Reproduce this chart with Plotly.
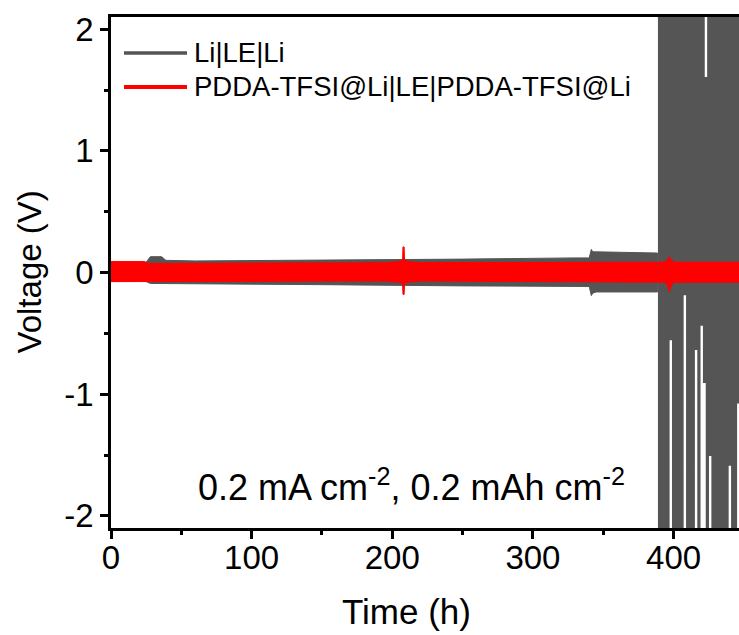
import plotly.graph_objects as go

# ---------------- data ----------------
# Li|LE|Li : envelope of the stable cycling region (V)
gray_t = [0, 24, 26, 28, 36, 39, 60, 150, 250, 330, 340, 341.5, 342.5, 345, 388.5]
gray_hi = [0.07, 0.07, 0.10, 0.13, 0.13, 0.10, 0.095, 0.10, 0.11, 0.12, 0.12, 0.19, 0.17, 0.17, 0.16]
gray_lo = [-0.07, -0.07, -0.08, -0.09, -0.09, -0.09, -0.09, -0.10, -0.11, -0.115, -0.115, -0.19, -0.17, -0.16, -0.16]

# Li|LE|Li : failure region, one value per 1 h half-cycle starting at 388.5 h (V, off-scale = +/-2.5)
fail_start = 388.5
fail_v = [2.5, -2.5, 2.5, -2.5, 2.5, -2.5, 2.5, -2.5, 2.5, -0.55,
          2.5, -2.5, 2.5, -2.5, 2.5, -2.5, 2.5, -2.5, 2.5, -0.18,
          2.5, -2.5, 2.5, -2.5, 2.5, -2.5, 2.5, -0.63, 2.5, -2.5,
          2.5, -0.43, 2.5, -0.9, 1.6, -2.5, 2.5, -1.5, 2.5, -2.5,
          2.5, -2.5, 2.5, -2.5, 2.5, -2.5, 2.5, -2.5, 2.5, -2.5,
          2.5, -1.58, 2.5, -2.5, 2.5, -2.5, 2.5, -1.07, 2.5]

# PDDA-TFSI@Li|LE|PDDA-TFSI@Li : envelope (V)
red_t = [0, 24, 26, 195, 205, 207.3, 207.6, 208.4, 208.7, 211, 220, 393, 395.5, 397, 398.5, 401, 447]
red_hi = [0.09, 0.09, 0.075, 0.08, 0.09, 0.10, 0.21, 0.21, 0.10, 0.09, 0.08, 0.085, 0.10, 0.13, 0.10, 0.085, 0.085]
red_lo = [-0.075, -0.075, -0.07, -0.07, -0.08, -0.09, -0.18, -0.18, -0.09, -0.08, -0.07, -0.08, -0.10, -0.16, -0.10, -0.08, -0.08]

x_ticks = [0, 100, 200, 300, 400]
x_tick_text = ["0", "100", "200", "300", "400"]
y_ticks = [-2, -1, 0, 1, 2]
y_tick_text = ["-2", "-1", "0", "1", "2"]
series_names = ["Li|LE|Li", "PDDA-TFSI@Li|LE|PDDA-TFSI@Li"]
x_title = "Time (h)"
y_title = "Voltage (V)"
cond_text = "0.2 mA cm<sup>-2</sup>, 0.2 mAh cm<sup>-2</sup>"

# ---------------- styling ----------------
GRAY = "#555555"
RED = "#FF0000"
FONT = "Arial, Liberation Sans, Arimo, sans-serif"
W, H = 739, 635
L, R, T, B = 111, 739, 17, 528


def xp(px):
    return (px - L) / (R - L)


def yp(py):
    return (B - py) / (B - T)


fig = go.Figure()

# gray stable band
fig.add_trace(go.Scatter(
    x=gray_t + gray_t[::-1], y=gray_hi + gray_lo[::-1],
    fill="toself", fillcolor=GRAY, mode="lines",
    line=dict(color=GRAY, width=1), showlegend=False, hoverinfo="skip"))

# gray failure square wave
fail_t = [fail_start + i for i in range(len(fail_v))]
fig.add_trace(go.Scatter(
    x=fail_t, y=fail_v, mode="lines", line=dict(color=GRAY, width=1.8, shape="hv"),
    showlegend=False, hoverinfo="skip"))

# red band
fig.add_trace(go.Scatter(
    x=red_t + red_t[::-1], y=red_hi + red_lo[::-1],
    fill="toself", fillcolor=RED, mode="lines",
    line=dict(color=RED, width=1), showlegend=False, hoverinfo="skip"))

axis_common = dict(
    showgrid=False, zeroline=False, showline=True, linecolor="black", linewidth=2.5,
    ticks="outside", ticklen=8, tickwidth=2.5, tickcolor="black", automargin=False,
    tickfont=dict(family=FONT, size=33, color="black"),
)

fig.update_xaxes(range=[0, 446.5], tickvals=x_ticks, ticktext=x_tick_text, mirror=True,
                 ticklabelstandoff=-9,
                 minor=dict(dtick=50, ticks="outside", ticklen=4, tickwidth=2.5, tickcolor="black"),
                 **axis_common)
fig.update_yaxes(range=[-2.1, 2.1], tickvals=y_ticks, ticktext=y_tick_text,
                 ticklabelstandoff=0,
                 minor=dict(dtick=0.5, ticks="outside", ticklen=4, tickwidth=2.5, tickcolor="black"),
                 **axis_common)

annotations = [
    dict(text=x_title, x=xp(406), y=yp(611), xref="paper", yref="paper", showarrow=False,
         xanchor="center", yanchor="middle", font=dict(family=FONT, size=35, color="black")),
    dict(text=y_title, x=xp(29), y=0.5, xref="paper", yref="paper", showarrow=False, textangle=-90,
         xanchor="center", yanchor="middle", font=dict(family=FONT, size=33, color="black")),
    dict(text=cond_text, x=xp(411), y=yp(485), xref="paper", yref="paper", showarrow=False,
         xanchor="center", yanchor="middle", font=dict(family=FONT, size=36, color="black")),
    dict(text=series_names[0], x=xp(192), y=yp(52), xref="paper", yref="paper", showarrow=False,
         xanchor="left", yanchor="middle", font=dict(family=FONT, size=27.5, color="black")),
    dict(text=series_names[1], x=xp(192), y=yp(86), xref="paper", yref="paper", showarrow=False,
         xanchor="left", yanchor="middle", font=dict(family=FONT, size=27.5, color="black")),
]

shapes = [
    dict(type="line", xref="paper", yref="paper", x0=xp(124), x1=xp(187), y0=yp(53), y1=yp(53),
         line=dict(color=GRAY, width=3.5)),
    dict(type="line", xref="paper", yref="paper", x0=xp(124), x1=xp(187), y0=yp(87), y1=yp(87),
         line=dict(color=RED, width=4)),
]

fig.update_layout(
    width=W, height=H,
    margin=dict(l=L, r=W - R, t=T, b=H - B, pad=0, autoexpand=False),
    plot_bgcolor="white", paper_bgcolor="white",
    showlegend=False,
    annotations=annotations, shapes=shapes,
    font=dict(family=FONT, color="black"),
)

fig.write_html("out.html",
               config={"displayModeBar": False},
               post_script="document.body.style.margin='0';document.body.style.overflow='hidden';")
